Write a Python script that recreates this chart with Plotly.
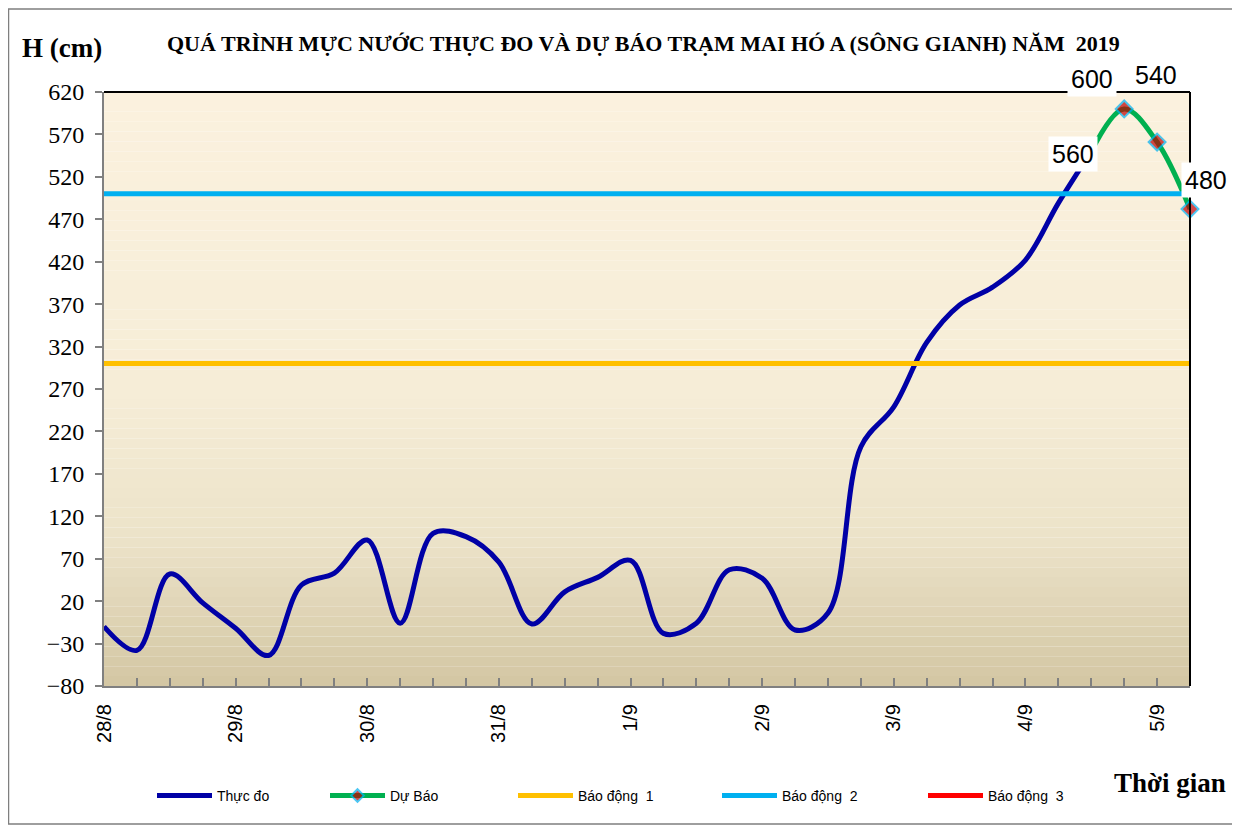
import plotly.graph_objects as go

# ---------------- data ----------------
day_labels = ["28/8", "29/8", "30/8", "31/8", "1/9", "2/9", "3/9", "4/9", "5/9"]
day_hours = [0, 24, 48, 72, 96, 120, 144, 168, 192]

obs_hours = [0, 6, 12, 18, 24, 30, 36, 42, 48, 54, 60, 66, 72, 78, 84, 90,
             96, 102, 108, 114, 120, 126, 132, 138, 144, 150, 156, 162, 168, 174, 180]
obs_values = [-10, -38, 52, 18, -12, -44, 39, 53, 92, -6, 100, 96, 66, -7, 31, 48,
              68, -18, -6, 57, 47, -14, 6, 202, 249, 325, 369, 390, 422, 489, 550]

fc_hours = [180, 186, 192, 198]
fc_values = [550, 600, 561, 482]

alarm_x = [0, 198]
alarm1 = [300, 300]
alarm2 = [500, 500]
alarm3 = [650, 650]

label_texts = ["600", "540", "560", "480"]

# ---------------- geometry (reference pixel coords, page has 8px body margin) ----------------
OFF = 8
W, H = 1240 - OFF, 828 - OFF
PL, PR, PT, PB = 104 - OFF, 1190 - OFF, 92 - OFF, 686 - OFF
L, R, T, B = PL, W - PR, PT, H - PB
pw, ph = PR - PL, PB - PT


def px(x):
    return (x - OFF - PL) / pw


def py(y):
    return (PB - (y - OFF)) / ph


fig = go.Figure()

fig.add_trace(go.Scatter(x=obs_hours, y=obs_values, mode="lines", name="Thực đo", legend="legend",
                         line=dict(color="#0000A6", width=5, shape="spline", smoothing=1.0)))
fig.add_trace(go.Scatter(x=fc_hours, y=fc_values, mode="lines+markers", name="Dự Báo", legend="legend2",
                         cliponaxis=False,
                         line=dict(color="#00B050", width=5, shape="spline", smoothing=1.0),
                         marker=dict(symbol="diamond", size=[0, 13, 13, 13], color="#C00000",
                                     line=dict(color="#00B0F0", width=2))))
fig.add_trace(go.Scatter(x=alarm_x, y=alarm1, mode="lines", name="Báo động  1", legend="legend3",
                         line=dict(color="#FFC000", width=5)))
fig.add_trace(go.Scatter(x=alarm_x, y=alarm2, mode="lines", name="Báo động  2", legend="legend4",
                         line=dict(color="#00B0F0", width=5)))
fig.add_trace(go.Scatter(x=alarm_x, y=alarm3, mode="lines", name="Báo động  3", legend="legend5",
                         line=dict(color="#FF0000", width=5)))

# background gradient of the plot area
shapes = []
stops = [(0.0, (251, 241, 222)), (0.5, (246, 237, 215)), (0.75, (236, 227, 201)), (1.0, (211, 198, 163))]


def col(t):
    for (t0, c0), (t1, c1) in zip(stops[:-1], stops[1:]):
        if t0 <= t <= t1:
            f = (t - t0) / (t1 - t0)
            return "rgb(%d,%d,%d)" % tuple(round(a + (b - a) * f) for a, b in zip(c0, c1))
    return "rgb(%d,%d,%d)" % stops[-1][1]


N = 60
for k in range(N):
    t = (k + 0.5) / N
    shapes.append(dict(type="rect", xref="x domain", yref="y domain", x0=0, x1=1,
                       y0=1 - (k + 1) / N, y1=1 - k / N, fillcolor=col(t),
                       line=dict(width=0), layer="below"))
# top and right plot border (black)
shapes.append(dict(type="line", xref="x domain", yref="y domain", x0=0, x1=1, y0=1, y1=1,
                   line=dict(color="black", width=2)))
shapes.append(dict(type="line", xref="x domain", yref="y domain", x0=1, x1=1, y0=0, y1=1,
                   line=dict(color="black", width=2)))
# outer chart frame
shapes.append(dict(type="rect", xref="paper", yref="paper", x0=px(8.5), x1=px(1233),
                   y0=py(824), y1=py(9), line=dict(color="#7F7F7F", width=1.5)))

tick_vals = list(range(0, 199, 6))
tick_text = [day_labels[day_hours.index(v)] if v in day_hours else "" for v in tick_vals]

annotations = [
    dict(text="<b>QUÁ TRÌNH MỰC NƯỚC THỰC ĐO VÀ DỰ BÁO TRẠM MAI HÓ A (SÔNG GIANH) NĂM  2019</b>",
         xref="paper", yref="paper", x=px(643), y=py(43), showarrow=False,
         font=dict(family="Liberation Serif", size=22, color="black"), xanchor="center", yanchor="middle"),
    dict(text="<b>H (cm)</b>", xref="paper", yref="paper", x=px(62), y=py(48), showarrow=False,
         font=dict(family="Liberation Serif", size=27, color="black"), xanchor="center", yanchor="middle"),
    dict(text="<b>Thời gian</b>", xref="paper", yref="paper", x=px(1170), y=py(783), showarrow=False,
         font=dict(family="Liberation Serif", size=27, color="black"), xanchor="center", yanchor="middle"),
]
label_pos = [(1092, 79), (1156, 75), (1073, 154), (1206, 180)]
label_bg = ["white", "rgba(0,0,0,0)", "white", "white"]
for txt, (lx, ly), bg in zip(label_texts, label_pos, label_bg):
    annotations.append(dict(text=txt, xref="paper", yref="paper", x=px(lx), y=py(ly), showarrow=False,
                            font=dict(family="Liberation Sans", size=25, color="black"),
                            bgcolor=bg, borderpad=3, xanchor="center", yanchor="middle"))

legend_x = [152, 325, 513, 717, 923]
legend_common = dict(orientation="h", xanchor="left", yanchor="middle",
                     font=dict(family="Liberation Sans", size=14, color="black"),
                     itemwidth=55, bgcolor="rgba(0,0,0,0)")
legend_layout = {}
for i, lxp in enumerate(legend_x):
    key = "legend" if i == 0 else "legend%d" % (i + 1)
    legend_layout[key] = dict(x=px(lxp), y=py(796), **legend_common)

fig.update_layout(
    width=W, height=H,
    margin=dict(l=L, r=R, t=T, b=B),
    paper_bgcolor="white", plot_bgcolor="rgba(0,0,0,0)",
    showlegend=True,
    shapes=shapes,
    annotations=annotations,
    xaxis=dict(range=[0, 198], tickmode="array", tickvals=tick_vals, ticktext=tick_text,
               ticks="inside", ticklen=8, tickwidth=2, tickcolor="#808080",
               showline=True, linecolor="#808080", linewidth=2, showgrid=False, zeroline=False,
               tickangle=-90, tickfont=dict(family="Liberation Sans", size=20, color="black"),
               ticklabelstandoff=8, automargin=False),
    yaxis=dict(range=[-80, 620], tick0=-80, dtick=50,
               ticks="outside", ticklen=7, tickwidth=2, tickcolor="#808080",
               showline=True, linecolor="#808080", linewidth=2, showgrid=False, zeroline=False,
               tickfont=dict(family="Liberation Serif", size=24, color="black"),
               ticklabelstandoff=6, automargin=False),
    **legend_layout,
)

fig.write_html("out.html")
